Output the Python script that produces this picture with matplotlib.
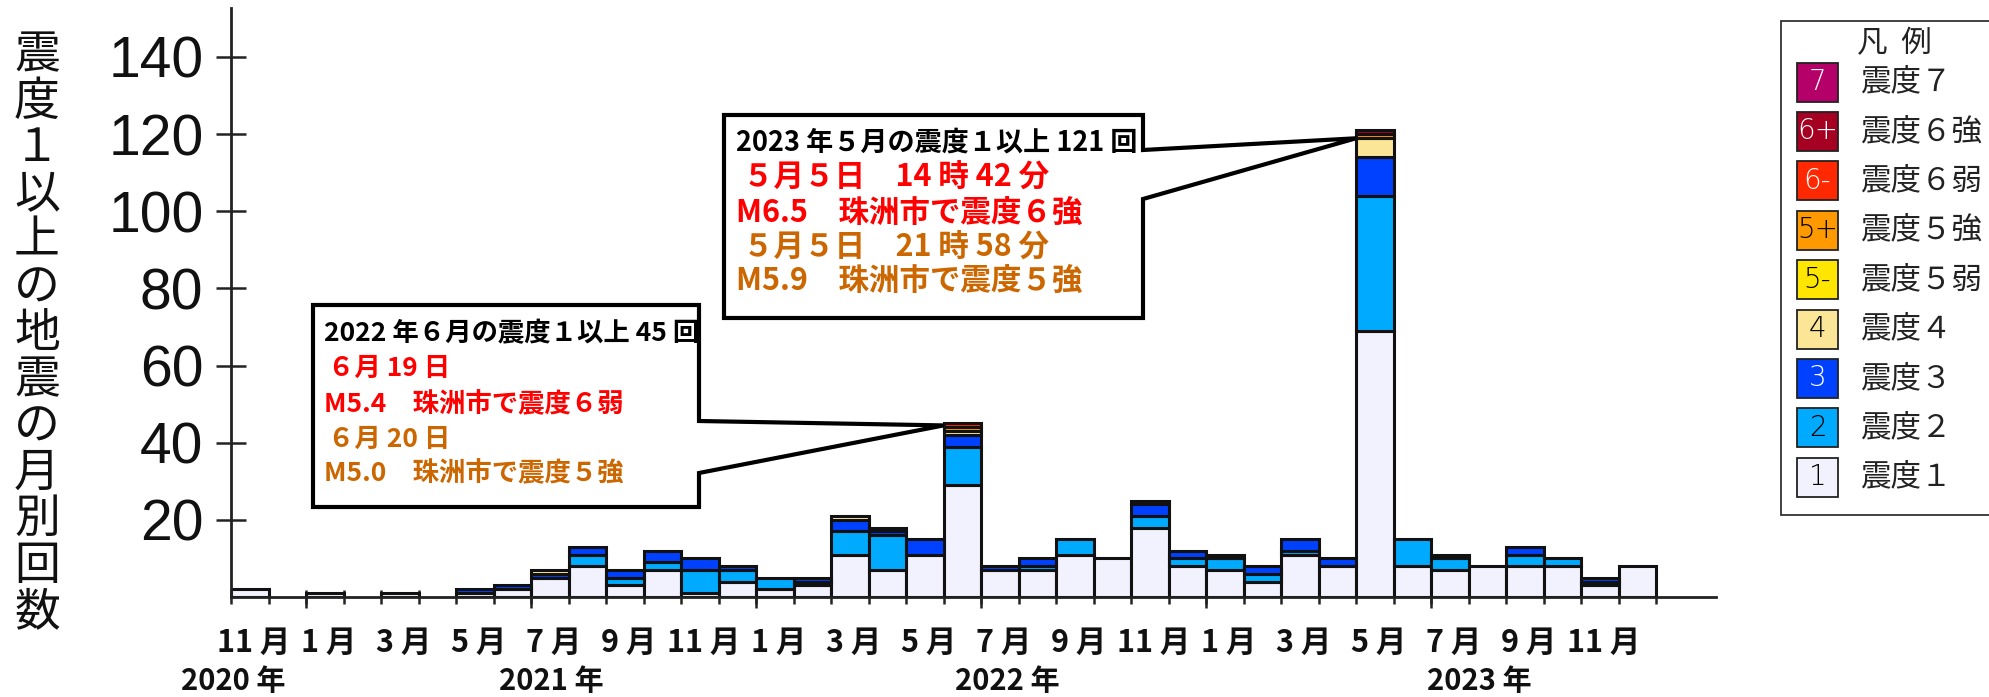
import numpy as np
import matplotlib
matplotlib.use('Agg')
import matplotlib.pyplot as plt
from matplotlib.patches import Polygon, Rectangle
from matplotlib.transforms import blended_transform_factory

W, H, DPI = 1989, 697, 100
CJK = ['Noto Sans CJK JP', 'DejaVu Sans']

# ---------------- data ----------------
months = ['2020-11', '2020-12',
          '2021-01', '2021-02', '2021-03', '2021-04', '2021-05', '2021-06',
          '2021-07', '2021-08', '2021-09', '2021-10', '2021-11', '2021-12',
          '2022-01', '2022-02', '2022-03', '2022-04', '2022-05', '2022-06',
          '2022-07', '2022-08', '2022-09', '2022-10', '2022-11', '2022-12',
          '2023-01', '2023-02', '2023-03', '2023-04', '2023-05', '2023-06',
          '2023-07', '2023-08', '2023-09', '2023-10', '2023-11', '2023-12']
month_labels = ['11 月', '1 月', '3 月', '5 月', '7 月', '9 月', '11 月',
                '1 月', '3 月', '5 月', '7 月', '9 月', '11 月',
                '1 月', '3 月', '5 月', '7 月', '9 月', '11 月']
year_labels = ['2020 年', '2021 年', '2022 年', '2023 年']
year_label_pos = [0.05, 8.53, 20.7, 33.3]

int1 = [2, 0, 1, 0, 1, 0, 1, 2, 5, 8, 3, 7, 1, 4, 2, 3, 11, 7, 11, 29,
        7, 7, 11, 10, 18, 8, 7, 4, 11, 8, 69, 8, 7, 8, 8, 8, 3, 8]
int2 = [0, 0, 0, 0, 0, 0, 0, 0, 0, 3, 2, 2, 6, 3, 3, 1, 6, 9, 0, 10,
        0, 1, 4, 0, 3, 2, 3, 2, 1, 0, 35, 7, 3, 0, 3, 2, 1, 0]
int3 = [0, 0, 0, 0, 0, 0, 1, 1, 1, 2, 2, 3, 3, 1, 0, 1, 3, 1, 4, 3,
        1, 2, 0, 0, 3, 2, 1, 2, 3, 2, 10, 0, 1, 0, 2, 0, 1, 0]
int4 = [0, 0, 0, 0, 0, 0, 0, 0, 1, 0, 0, 0, 0, 0, 0, 0, 1, 1, 0, 1,
        0, 0, 0, 0, 1, 0, 0, 0, 0, 0, 5, 0, 0, 0, 0, 0, 0, 0]
int5m = [0, 0, 0, 0, 0, 0, 0, 0, 0, 0, 0, 0, 0, 0, 0, 0, 0, 0, 0, 0,
         0, 0, 0, 0, 0, 0, 0, 0, 0, 0, 0, 0, 0, 0, 0, 0, 0, 0]
int5p = [0, 0, 0, 0, 0, 0, 0, 0, 0, 0, 0, 0, 0, 0, 0, 0, 0, 0, 0, 1,
         0, 0, 0, 0, 0, 0, 0, 0, 0, 0, 1, 0, 0, 0, 0, 0, 0, 0]
int6m = [0, 0, 0, 0, 0, 0, 0, 0, 0, 0, 0, 0, 0, 0, 0, 0, 0, 0, 0, 1,
         0, 0, 0, 0, 0, 0, 0, 0, 0, 0, 0, 0, 0, 0, 0, 0, 0, 0]
int6p = [0, 0, 0, 0, 0, 0, 0, 0, 0, 0, 0, 0, 0, 0, 0, 0, 0, 0, 0, 0,
         0, 0, 0, 0, 0, 0, 0, 0, 0, 0, 1, 0, 0, 0, 0, 0, 0, 0]
int7 = [0, 0, 0, 0, 0, 0, 0, 0, 0, 0, 0, 0, 0, 0, 0, 0, 0, 0, 0, 0,
        0, 0, 0, 0, 0, 0, 0, 0, 0, 0, 0, 0, 0, 0, 0, 0, 0, 0]

legend_codes = ['7', '6+', '6-', '5+', '5-', '4', '3', '2', '1']
legend_names = ['震度７', '震度６強', '震度６弱', '震度５強', '震度５弱',
                '震度４', '震度３', '震度２', '震度１']
y_ticks = [20, 40, 60, 80, 100, 120, 140]
ylabel = '震度１以上の地震の月別回数'

box1_lines = ['2022 年６月の震度１以上 45 回', '６月 19 日', 'M5.4　珠洲市で震度６弱',
              '６月 20 日', 'M5.0　珠洲市で震度５強']
box2_lines = ['2023 年５月の震度１以上 121 回', '５月５日　14 時 42 分',
              'M6.5　珠洲市で震度６強', '５月５日　21 時 58 分',
              'M5.9　珠洲市で震度５強']

# ---------------- style ----------------
level_colors = ['#F2F2FF', '#00AAFF', '#0041FF', '#FAE696', '#FFE600',
                '#FF9900', '#FF2800', '#A50021', '#B40068']
legend_colors = ['#B40068', '#A50021', '#FF2800', '#FF9900', '#FFE600',
                 '#FAE696', '#0041FF', '#00AAFF', '#F2F2FF']
legend_txtcol = ['white', 'white', 'white', 'black', 'black', 'black',
                 'white', 'black', 'black']
RED = '#FF0000'
ORG = '#CC6600'
box_colors = ['black', RED, RED, ORG, ORG]


def fx(px):
    return px / W


def fy(py):
    return 1 - py / H


fig = plt.figure(figsize=(W / DPI, H / DPI), dpi=DPI)
fig.patch.set_facecolor('white')
ax = fig.add_axes([fx(231), fy(597), (1716 - 231) / W, (597 - 8) / H])
n = len(months)
ax.set_xlim(0, 39.6)
ax.set_ylim(0, 152.7)

x = np.arange(n)
bottom = np.zeros(n)
for vals, c in zip([int1, int2, int3, int4, int5m, int5p, int6m, int6p, int7],
                   level_colors):
    v = np.array(vals, float)
    m = v > 0
    if m.any():
        ax.bar(x[m], v[m], width=1.0, align='edge', bottom=bottom[m],
               color=c, edgecolor='#111111', linewidth=2.2, zorder=2)
    bottom += v
total = bottom

for s in ['top', 'right']:
    ax.spines[s].set_visible(False)
for s in ['left', 'bottom']:
    ax.spines[s].set_linewidth(2.0)
    ax.spines[s].set_color('#222222')
    ax.spines[s].set_zorder(3)

ax.set_yticks(y_ticks)
ax.set_yticklabels([str(t) for t in y_ticks], family='Liberation Sans',
                   fontsize=41, color='#111111')
ax.tick_params(axis='y', direction='inout', length=21.6, width=1.8,
               color='#222222', pad=9)

# x: tick marks at month boundaries
ax.set_xticks(np.arange(0, n + 1), minor=True)
ax.set_xticks([])
ax.tick_params(axis='x', which='minor', direction='inout', length=10,
               width=1.8, color='#222222')
sec = ax.secondary_xaxis('bottom')
sec.set_xticks(np.arange(2, n, 6))
sec.set_xticklabels([])
sec.tick_params(direction='out', length=8, width=1.8, color='#222222')
sec.spines['bottom'].set_visible(False)

tr = blended_transform_factory(ax.transData, fig.transFigure)
for i, lab in enumerate(month_labels):
    ax.text(x[2 * i] + 0.5 + 0.1, fy(643), lab, transform=tr, ha='center',
            va='center', fontsize=22, family=CJK, weight='bold', color='#111')
for pos, lab in zip(year_label_pos, year_labels):
    ax.text(pos, fy(696), lab, transform=tr, ha='center', va='bottom',
            fontsize=21, family=CJK, weight='bold', color='#111')

# y label, stacked characters
for i, ch in enumerate(ylabel):
    fig.text(fx(37), fy(55 + 46.4 * i), ch, ha='center', va='center',
             fontsize=33, family=CJK, color='#111')


# ---------------- callout boxes ----------------
def tip_of(idx, dy_px):
    d = ax.transData.transform((idx, total[idx]))
    f = fig.transFigure.inverted().transform(d)
    return (f[0], f[1] - dy_px / H)


def callout(l, t, r, b, ay1, ay2, tip):
    pts = [(fx(l), fy(t)), (fx(r), fy(t)), (fx(r), fy(ay1)), tip,
           (fx(r), fy(ay2)), (fx(r), fy(b)), (fx(l), fy(b))]
    p = Polygon(pts, closed=True, transform=fig.transFigure, facecolor='white',
                edgecolor='black', linewidth=3.0, joinstyle='miter', zorder=5)
    fig.patches.append(p)


callout(313, 305, 699, 507, 421, 473, tip_of(19, 2))
callout(724, 115, 1143, 318, 150, 199, tip_of(30, 8))

b1_y = [334, 368, 405, 439, 474]
b1_x = [324, 328, 324, 328, 324]
for txt, yy, xx, c in zip(box1_lines, b1_y, b1_x, box_colors):
    fig.text(fx(xx), fy(yy), txt, ha='left', va='center', fontsize=19,
             family=CJK, weight='bold', color=c, zorder=6)

b2_y = [143, 178, 213, 248, 281]
b2_x = [736, 743, 736, 743, 736]
b2_fs = [19.5, 22, 22, 22, 22]
for txt, yy, xx, c, fs in zip(box2_lines, b2_y, b2_x, box_colors, b2_fs):
    fig.text(fx(xx), fy(yy), txt, ha='left', va='center', fontsize=fs,
             family=CJK, weight='bold', color=c, zorder=6)

# ---------------- legend ----------------
fig.patches.append(Rectangle((fx(1781), fy(515)), (2000 - 1781) / W,
                             (515 - 21) / H, transform=fig.transFigure,
                             facecolor='white', edgecolor='#333333',
                             linewidth=1.3, zorder=4))
fig.text(fx(1857), fy(44), '凡  例', ha='left', va='center', fontsize=22,
         family=CJK, color='#222', zorder=6)
for i, (code, name, col, tc) in enumerate(zip(legend_codes, legend_names,
                                              legend_colors, legend_txtcol)):
    cy = 82 + 49.4 * i
    fig.patches.append(Rectangle((fx(1797), fy(cy + 19.5)), 41 / W, 39 / H,
                                 transform=fig.transFigure, facecolor=col,
                                 edgecolor='#222222', linewidth=1.3, zorder=5))
    fig.text(fx(1817.5), fy(cy), code, ha='center', va='center', fontsize=20,
             family=['DejaVu Sans'], weight='light', color=tc, zorder=6)
    fig.text(fx(1860), fy(cy), name, ha='left', va='center', fontsize=22,
             family=CJK, color='#222', zorder=6)

fig.savefig('out.png', dpi=DPI, facecolor='white')
